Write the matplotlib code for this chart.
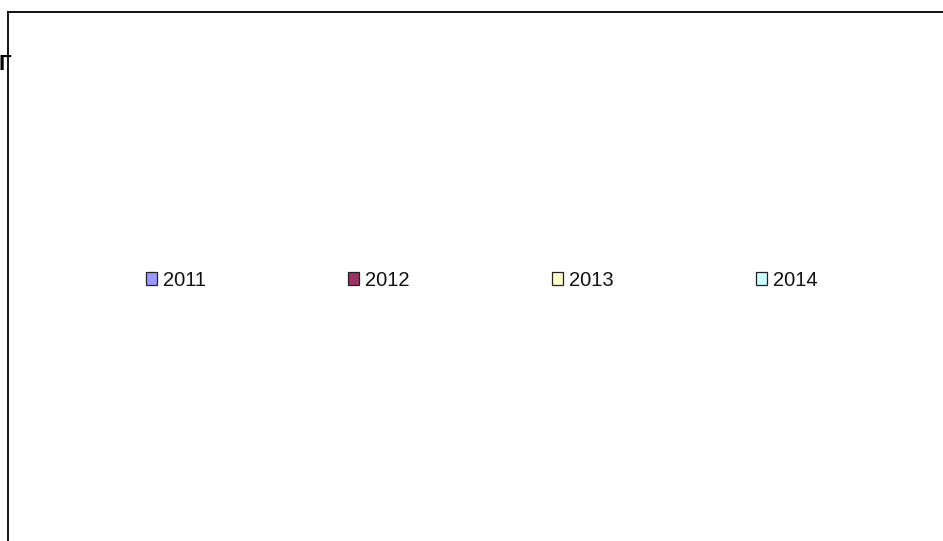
import matplotlib
matplotlib.use("Agg")
import matplotlib.pyplot as plt
from matplotlib.patches import Patch
from matplotlib import font_manager

years = ["2011", "2012", "2013", "2014"]
colors = ["#9999FF", "#993366", "#FFFFCC", "#CCFFFF"]
title_fragment = "Г"

names = {f.name for f in font_manager.fontManager.ttflist}
fam = ["Liberation Sans Narrow"] if "Liberation Sans Narrow" in names else ["Liberation Sans"]
fam = fam + ["DejaVu Sans"]

W, H = 943, 541
fig = plt.figure(figsize=(W / 100, H / 100), dpi=100)
fig.patch.set_facecolor("white")

# plot area frame: left edge at x=8px, top at y=12px, extends past right/bottom
ax = fig.add_axes([8 / W, -0.05, 1.1, 1.05 - 12 / H])
ax.set_xticks([])
ax.set_yticks([])
for s in ["left", "top"]:
    ax.spines[s].set_linewidth(1.3)
    ax.spines[s].set_color("black")
ax.spines["right"].set_visible(False)
ax.spines["bottom"].set_visible(False)

fs = 14.5
handles = [Patch(facecolor=c, edgecolor="#222222", linewidth=0.9, label=y)
           for c, y in zip(colors, years)]
leg = fig.legend(handles=handles, loc="center left",
                 bbox_to_anchor=(146 / W, 1 - 280 / H), ncol=4, frameon=False,
                 prop={"family": fam, "size": fs},
                 handlelength=0.55, handleheight=0.6, handletextpad=0.3,
                 columnspacing=7.06, borderpad=0, borderaxespad=0)
for t in leg.get_texts():
    t.set_color("#111111")

fig.text(-1 / W, 1 - 65 / H, title_fragment, ha="left", va="center",
         fontsize=16, fontweight="bold", family=fam)

fig.savefig("out.png", dpi=100)
